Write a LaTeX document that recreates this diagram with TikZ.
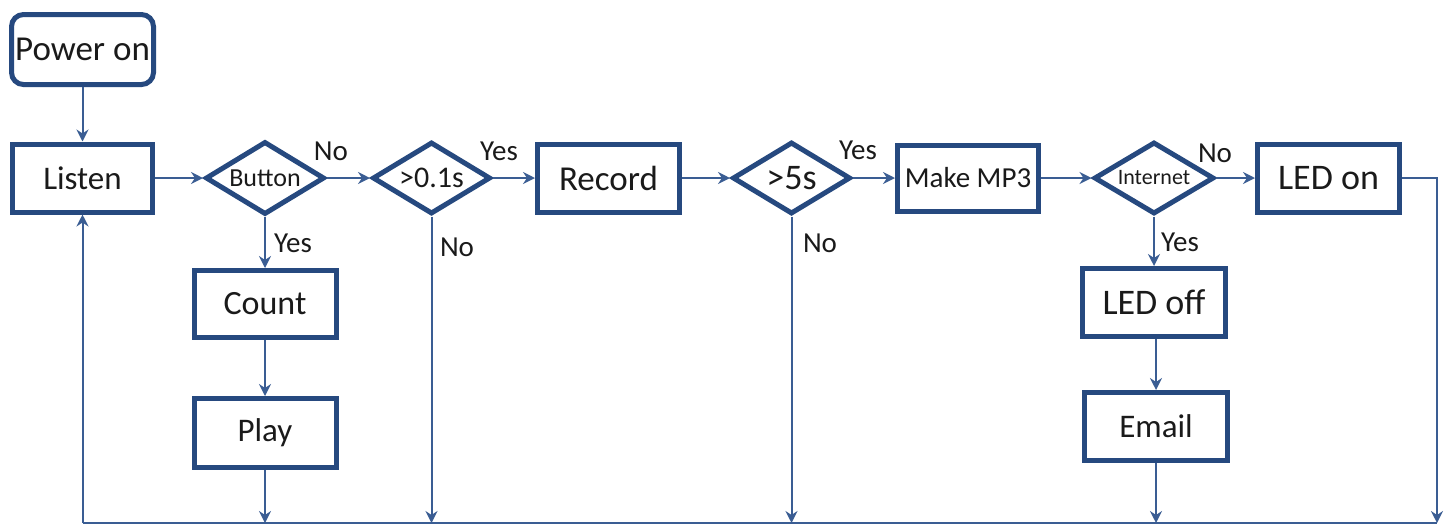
\documentclass[tikz,border=0pt]{standalone}
\usepackage{fontspec}
\setmainfont{Carlito}
\usetikzlibrary{shapes.geometric,arrows.meta}
\definecolor{boxblue}{HTML}{26497F}
\definecolor{lineblue}{HTML}{3A5D93}
\definecolor{txt}{HTML}{1A1A1A}
\tikzset{
  fsz/.style={font=\fontsize{#1}{#1}\selectfont},
  box/.style 2 args={draw=boxblue, line width=2.5pt, inner sep=0pt, text=txt,
    minimum width=#1, minimum height=#2},
  dia/.style 2 args={diamond, draw=boxblue, line width=2.5pt, inner sep=0pt, text=txt,
    minimum width=#1, minimum height=#2, shape aspect=1.63},
  lab/.style={inner sep=0pt, text=txt, font=\fontsize{14.5}{14.5}\selectfont},
  conn/.style={draw=lineblue, line width=1pt},
  arr/.style={conn, -{Stealth[length=6pt,width=6pt,inset=2pt]}}
}
\begin{document}
\begin{tikzpicture}[x=0.5pt,y=-0.5pt]
\useasboundingbox (0,0) rectangle (1449,527);

% top row
\node[box={71pt}{35pt}, rounded corners=6pt, fsz=17.5] (power) at (82.5,49.5) {Power on};
\node[box={70pt}{34pt}, fsz=16.5] (listen) at (82.5,178) {Listen};
\node[dia={59.5pt}{36.5pt}, fsz=13] (button) at (265,178) {Button};
\node[dia={59pt}{36pt}, fsz=15] (d01) at (431.5,178) {>0.1s};
\node[box={71pt}{34pt}, fsz=17.5] (record) at (608.5,178) {Record};
\node[dia={59pt}{36pt}, fsz=18] (d5) at (791.5,178) {>5s};
\node[box={70.5pt}{33pt}, fsz=14.5] (mp3) at (968,178) {Make MP3};
\node[dia={60pt}{36pt}, fsz=11] (internet) at (1154,178) {Internet};
\node[box={71pt}{34pt}, fsz=18] (ledon) at (1328.5,178) {LED on};

% lower boxes
\node[box={71pt}{33.5pt}, fsz=17] (count) at (265,304) {Count};
\node[box={71pt}{34.5pt}, fsz=16.5] (play) at (265,433) {Play};
\node[box={71.5pt}{34pt}, fsz=18] (ledoff) at (1154,302.5) {LED off};
\node[box={71.5pt}{34pt}, fsz=16.5] (email) at (1156,426.5) {Email};

% bottom return line
\coordinate (bL) at (82.5,523);
\coordinate (bR) at (1437,523);

% connectors
\draw[arr] (power) -- (listen);
\draw[arr] (listen) -- (button);
\draw[arr] (button) -- (d01);
\draw[arr] (d01) -- (record);
\draw[arr] (record) -- (d5);
\draw[arr] (d5) -- (mp3);
\draw[arr] (mp3) -- (internet);
\draw[arr] (internet) -- (ledon);
\draw[arr] (button) -- (count);
\draw[arr] (count) -- (play);
\draw[arr] (internet) -- (ledoff);
\draw[arr] (ledoff.south -| email) -- (email);

\draw[arr] (play) -- (play |- bL);
\draw[arr] (d01.south) -- (d01.south |- bL);
\draw[arr] (d5.south) -- (d5.south |- bL);
\draw[arr] (email) -- (email |- bL);
\draw[arr] (ledon.east) -- (ledon.east -| bR) -- (bR);
\draw[conn] (bL) -- (bR);
\draw[arr] (bL) -- (listen);

% labels
\node[lab] (l1) at (331,151) {No};
\node[lab] (l2) at (293,243) {Yes};
\node[lab] (l3) at (499,151) {Yes};
\node[lab] (l4) at (457,247) {No};
\node[lab] (l5) at (858,150) {Yes};
\node[lab] (l6) at (820,243) {No};
\node[lab] (l7) at (1215,153) {No};
\node[lab] (l8) at (1180,242) {Yes};
\end{tikzpicture}
\end{document}
